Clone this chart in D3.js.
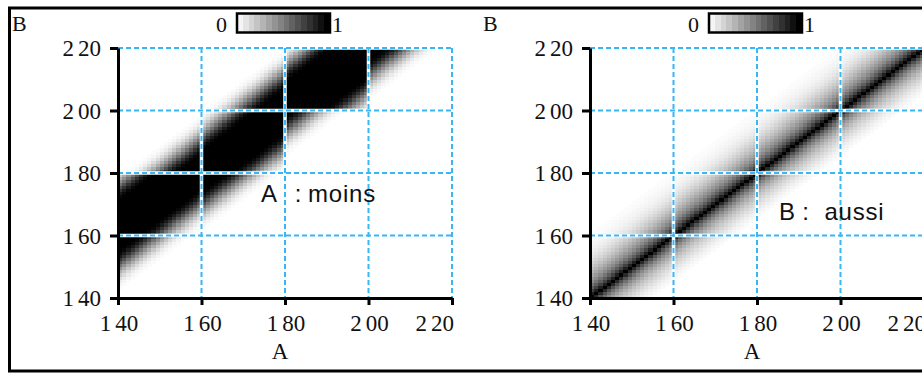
<!DOCTYPE html>
<html><head><meta charset="utf-8">
<script src="https://cdn.jsdelivr.net/npm/d3@7"></script>
<style>
html,body{margin:0;padding:0;background:#fff;overflow:hidden}
text{font-family:"Liberation Serif","Times New Roman",serif}
.ann{font-family:"Liberation Sans",Arial,sans-serif}
</style></head>
<body>
<svg id="c" width="922" height="374"></svg>
<script>
// ---- data ----
const axisTicks = [140, 160, 180, 200, 220];
const tickLabels = ["140", "160", "180", "200", "220"];
const gridValues = [160, 180, 200, 220];
const cellStarts = d3.range(140, 220); // 1-unit cells in A and B
const panelTitles = [["A", " :", " moins"], ["B", " :", " aussi"]];
const legendSteps = d3.range(0, 16);
// left panel: per 20x20 tile (rows from B=140 upward, cols from A=140), black band limits of d = B - A
const leftTileLo = [[15, 14, 14, 14], [15, 14, 18, 16], [14, 13, 18, 16], [14, 12, 11, 16]];
const leftTileHi = [[38, 31, 28, 28], [31, 31, 28, 28], [26, 27, 28, 28], [24, 27, 29, 28]];
// fading of the left band outside its black part (distance 1..12 units)
const leftFade = [0.97, 0.9, 0.8, 0.68, 0.55, 0.43, 0.32, 0.22, 0.14, 0.08, 0.04, 0.015];
// right panel: intensity by d = B - A
const rightOffsets = d3.range(-14, 21);
const rightValues = [0.02, 0.04, 0.06, 0.09, 0.12, 0.16, 0.2, 0.25, 0.31, 0.38, 0.46, 0.56, 0.68, 0.84, 1.0,
                     0.88, 0.74, 0.63, 0.54, 0.46, 0.4, 0.34, 0.29, 0.24, 0.2, 0.16, 0.13, 0.1, 0.08, 0.06,
                     0.045, 0.035, 0.025, 0.015, 0.01];

function leftValue(a, b) {
  const ti = Math.min(3, Math.floor((a - 140) / 20)), tj = Math.min(3, Math.floor((b - 140) / 20));
  const d = b - a, lo = leftTileLo[tj][ti], hi = leftTileHi[tj][ti];
  if (d >= lo && d <= hi) return 1;
  const dist = d < lo ? lo - d : d - hi;
  return dist <= leftFade.length ? leftFade[dist - 1] : 0;
}
function rightValue(a, b) {
  const i = rightOffsets.indexOf(b - a);
  return i < 0 ? 0 : rightValues[i];
}

const svg = d3.select("#c");
const color = d3.scaleLinear().domain([0, 1]).range(["#ffffff", "#000000"]);

// outer frame
svg.append("rect").attr("x", 9.5).attr("y", 8).attr("width", 940).attr("height", 363)
  .attr("fill", "none").attr("stroke", "#000").attr("stroke-width", 3);

const panels = [
  {x0: 118, value: leftValue, title: panelTitles[0], tx: [261, 288, 300.5], ty: 202, bx: 12, lx: 237},
  {x0: 590, value: rightValue, title: panelTitles[1], tx: [779, 795.5, 817], ty: 220, bx: 483, lx: 709}
];
const W = 334, Y0 = 48, H = 250;

panels.forEach(p => {
  const x = d3.scaleLinear().domain([140, 220]).range([p.x0, p.x0 + W]);
  const y = d3.scaleLinear().domain([140, 220]).range([Y0 + H, Y0]);
  const g = svg.append("g");
  const cells = [];
  cellStarts.forEach(a => cellStarts.forEach(b => {
    const v = p.value(a, b);
    if (v > 0) cells.push({a, b, v});
  }));
  g.append("g").attr("shape-rendering", "crispEdges").selectAll("rect").data(cells).join("rect")
    .attr("x", d => x(d.a)).attr("y", d => y(d.b + 1))
    .attr("width", d => x(d.a + 1) - x(d.a) + 0.4)
    .attr("height", d => y(d.b) - y(d.b + 1) + 0.4)
    .attr("fill", d => color(d.v));

  // grid: white underlay + blue dashes
  const grid = g.append("g");
  gridValues.forEach(v => {
    grid.append("line").attr("x1", x(v)).attr("x2", x(v)).attr("y1", Y0).attr("y2", Y0 + H)
      .attr("stroke", "#fff").attr("stroke-width", 3.5);
    grid.append("line").attr("x1", x(140)).attr("x2", x(220)).attr("y1", y(v)).attr("y2", y(v))
      .attr("stroke", "#fff").attr("stroke-width", 3.5);
  });
  gridValues.forEach(v => {
    grid.append("line").attr("x1", x(v)).attr("x2", x(v)).attr("y1", Y0).attr("y2", Y0 + H)
      .attr("stroke", "#38b6f6").attr("stroke-width", 2).attr("stroke-dasharray", "5,3");
    grid.append("line").attr("x1", x(140)).attr("x2", x(220)).attr("y1", y(v)).attr("y2", y(v))
      .attr("stroke", "#38b6f6").attr("stroke-width", 2).attr("stroke-dasharray", "5,3");
  });

  // axes
  const xa = g.append("g").attr("transform", `translate(0,${Y0 + H})`)
    .call(d3.axisBottom(x).tickValues(axisTicks).tickSize(7).tickSizeOuter(0).tickFormat(() => ""));
  const ya = g.append("g").attr("transform", `translate(${p.x0},0)`)
    .call(d3.axisLeft(y).tickValues(axisTicks).tickSize(8).tickSizeOuter(0).tickFormat(() => ""));
  [xa, ya].forEach(a => {
    a.select(".domain").attr("stroke", "#000").attr("stroke-width", 3);
    a.selectAll(".tick line").attr("stroke", "#000").attr("stroke-width", 3);
  });
  // tick labels with the wide gap after the first digit
  const lab = (sel, s) => {
    sel.append("tspan").text(s[0]);
    sel.append("tspan").attr("dx", 4).text(s.slice(1));
  };
  axisTicks.forEach((t, i) => {
    const last = i === axisTicks.length - 1;
    const tx = svg.append("text").attr("x", last ? x(t) + 2 : x(t) + 1).attr("y", 331)
      .attr("text-anchor", last ? "end" : "middle").attr("font-size", 23).attr("fill", "#111");
    lab(tx, tickLabels[i]);
    const ty = svg.append("text").attr("x", p.x0 - 17).attr("y", y(t) + 8)
      .attr("text-anchor", "end").attr("font-size", 23).attr("fill", "#111");
    lab(ty, tickLabels[i]);
  });
  svg.append("text").attr("x", p.x0 + W / 2 - 5).attr("y", 359).attr("text-anchor", "middle")
    .attr("font-size", 23).attr("fill", "#111").text("A");
  svg.append("text").attr("x", p.bx).attr("y", 31).attr("font-size", 22).attr("fill", "#111").text("B");

  // annotation
  const ann = svg.append("text").attr("class", "ann").attr("y", p.ty)
    .attr("font-size", 24).attr("fill", "#111");
  p.title.forEach((w, i) => ann.append("tspan").attr("x", p.tx[i])
    .attr("letter-spacing", i === 2 ? 0.8 : 0).text(w));

  // colour legend
  const lw = 93, lh = 19, ly = 13.5;
  const ls = d3.scaleBand().domain(legendSteps).range([p.lx, p.lx + lw]);
  svg.append("g").attr("shape-rendering", "crispEdges").selectAll("rect").data(legendSteps).join("rect")
    .attr("x", d => ls(d)).attr("y", ly).attr("width", ls.bandwidth() + 0.5).attr("height", lh)
    .attr("fill", d => color(0.04 + 0.96 * d / (legendSteps.length - 1)));
  svg.append("rect").attr("x", p.lx).attr("y", ly).attr("width", lw).attr("height", lh)
    .attr("fill", "none").attr("stroke", "#000").attr("stroke-width", 2.5);
  svg.append("text").attr("x", p.lx - 10).attr("y", 32).attr("text-anchor", "end")
    .attr("font-size", 22).attr("fill", "#111").text("0");
  svg.append("text").attr("x", p.lx + lw + 2).attr("y", 32)
    .attr("font-size", 22).attr("fill", "#111").text("1");
});
</script>
</body></html>
